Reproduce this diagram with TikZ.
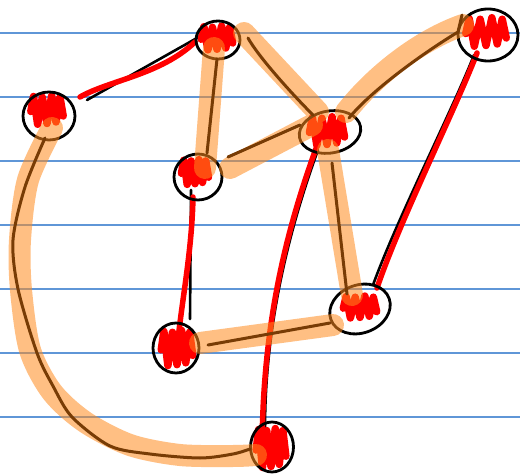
\documentclass[tikz,border=0pt]{standalone}
\usetikzlibrary{shapes.geometric,calc}
\pgfdeclarelayer{bg}\pgfdeclarelayer{edge}\pgfdeclarelayer{scrib}\pgfdeclarelayer{hl}\pgfdeclarelayer{top}
\pgfsetlayers{bg,edge,scrib,main,hl,top}
\definecolor{rulec}{RGB}{95,150,215}
\definecolor{hlc}{RGB}{255,140,30}
\definecolor{brn}{RGB}{120,60,5}
\definecolor{scr}{RGB}{255,0,0}
\tikzset{
 nd/.style={ellipse, draw=black, line width=2.8pt, inner sep=0pt},
 blk/.style={draw=black, line width=2.6pt, line cap=round},
 redl/.style={draw=scr, line width=5.5pt, line cap=round},
 hlband/.style={draw=hlc, line width=22pt, line cap=round, line join=round},
 brl/.style={draw=brn, line width=3pt, line cap=round, line join=round},
 scrl/.style={draw=scr, line width=7.5pt, line cap=round, line join=round},
 rulel/.style={draw=rulec, line width=1.3pt},
}
\newcommand\scrib[5]{%
 \begin{scope}[shift={($(#1)+(#2,#3)$)}, xscale=#4/2, yscale=#5/2]
  \draw[scrl] (-0.9,0.1) -- (-0.75,-0.9) -- (-0.52,0.95) -- (-0.26,-0.85) -- (0,0.9) -- (0.26,-0.95) -- (0.5,0.8) -- (0.72,-0.85) -- (0.9,0.4);
 \end{scope}}
\begin{document}
\begin{tikzpicture}[x=1pt,y=-1pt]
\useasboundingbox (0,0) rectangle (520,476);
\begin{pgfonlayer}{bg}
 \fill[white] (0,0) rectangle (520,476);
 \foreach \yy in {33,97,161,225,289,353,417} \draw[rulel] (0,\yy) -- (520,\yy);
\end{pgfonlayer}
% nodes
\node[nd, minimum width=52pt, minimum height=48pt] (A) at (49,116) {};
\node[nd, minimum width=44pt, minimum height=38pt] (B) at (218,40) {};
\node[nd, minimum width=48pt, minimum height=46pt] (C) at (198,177) {};
\node[nd, minimum width=62pt, minimum height=42pt, rotate=10] (D) at (330,132) {};
\node[nd, minimum width=60pt, minimum height=52pt] (E) at (488,35) {};
\node[nd, minimum width=62pt, minimum height=48pt, rotate=20] (F) at (360,309) {};
\node[nd, minimum width=46pt, minimum height=50pt] (G) at (176,348) {};
\node[nd, minimum width=43pt, minimum height=50pt] (H) at (272,447) {};
% black and red connectors
\begin{pgfonlayer}{edge}
 \draw[blk] ($(A)+(38,-16)$) -- ($(B)+(-21,-2)$);
 \draw[blk] ($(C)+(-7,13)$) -- ($(G)+(14,-29)$);
 \draw[blk] ($(D)+(-12,18)$) .. controls (287,235) and (265,330) .. ($(H)+(-7,-19)$);
 \draw[blk] ($(E)+(-14,20)$) .. controls (452,111) and (397,219) .. ($(F)+(13,-24)$);
 \draw[redl] ($(A)+(31,-19)$) .. controls (110,80) and (160,75) .. ($(B)+(-23,2)$);
 \draw[redl] ($(C)+(-5,20)$) .. controls (192,250) and (182,300) .. ($(G)+(2,-8)$);
 \draw[redl] ($(D)+(-12,11)$) .. controls (288,225) and (262,320) .. ($(H)+(-10,8)$);
 \draw[redl] ($(E)+(-11,18)$) .. controls (455,110) and (400,220) .. ($(F)+(17,-21)$);
\end{pgfonlayer}
% scribbles
\begin{pgfonlayer}{scrib}
 \scrib{A}{-2}{-6}{36}{30}
 \scrib{B}{-1}{-2}{35}{25}
 \scrib{C}{-3}{-5}{30}{26}
 \scrib{D}{-3}{-1}{39}{30}
 \scrib{E}{-2}{-3}{45}{30}
 \scrib{F}{0}{-2}{37}{23}
 \scrib{G}{1}{0}{35}{37}
 \scrib{H}{-1}{1}{33}{41}
\end{pgfonlayer}
% highlight bands
\begin{pgfonlayer}{hl}
 \begin{scope}[transparency group, opacity=0.55]
  \draw[hlband] ($(B)+(-4,8)$) -- ($(C)+(7,-9)$);
  \draw[hlband] ($(B)+(26,-7)$) -- ($(D)+(-12,-20)$);
  \draw[hlband] ($(C)+(32,-9)$) -- ($(D)+(-18,-7)$);
  \draw[hlband] ($(D)+(16,-20)$) .. controls (375,75) and (420,40) .. ($(E)+(-25,-10)$);
  \draw[hlband] ($(D)+(-2,18)$) -- ($(F)+(-8,-14)$);
  \draw[hlband] ($(G)+(24,-5)$) -- ($(F)+(-27,16)$);
  \draw[hlband] plot[smooth] coordinates {($(A)+(3,12)$) (28,180) (20,240) (21,290) (30,350) (52,392) (85,422) (130,445) (180,455) (233,456) ($(H)+(-16,8)$)};
 \end{scope}
\end{pgfonlayer}
% brown lines
\begin{pgfonlayer}{top}
 \draw[brl] ($(B)+(-1,19)$) -- ($(C)+(9,-24)$);
 \draw[brl] ($(B)+(30,-2)$) .. controls (258,56) and (290,92) .. ($(D)+(-17,-17)$);
 \draw[brl] ($(C)+(30,-20)$) -- ($(D)+(-30,-7)$);
 \draw[brl] ($(D)+(19,-14)$) .. controls (370,92) and (420,55) .. ($(E)+(-30,-3)$) -- ($(E)+(-26,-20)$);
 \draw[brl] ($(D)+(2,31)$) -- ($(F)+(-13,-15)$);
 \draw[brl] ($(G)+(32,-3)$) -- ($(F)+(-30,14)$);
 \draw[brl] plot[smooth] coordinates {($(A)+(-4,22)$) (25,187) (13,240) (18,289) (37,353) (53,386) (72,417) (110,446) (150,454) (200,458) (233,454) ($(H)+(-22,2)$)};
\end{pgfonlayer}
\end{tikzpicture}
\end{document}
